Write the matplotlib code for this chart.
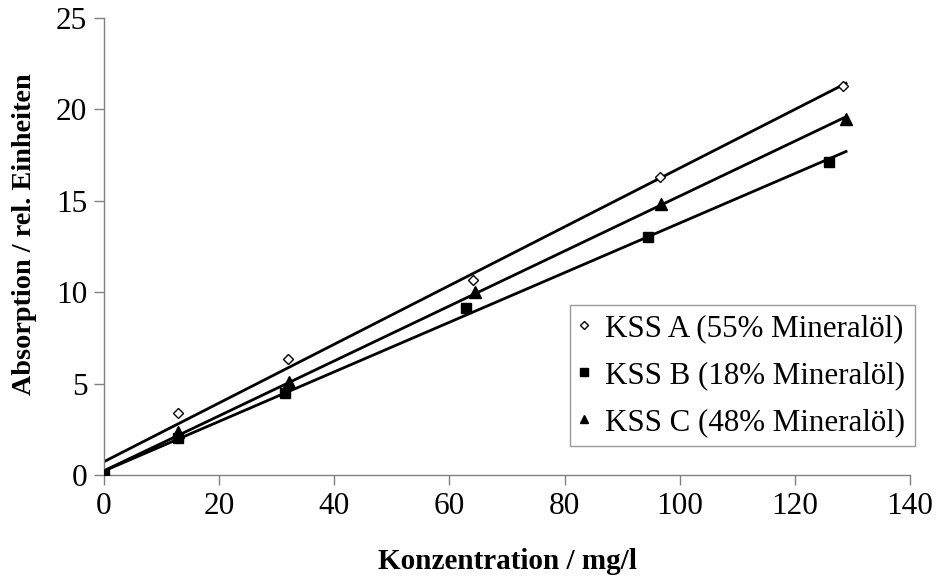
import numpy as np
import matplotlib
matplotlib.use("Agg")
import matplotlib.pyplot as plt

plt.rcParams['font.family'] = ['Liberation Serif', 'DejaVu Serif']

# Messwerte
x_a = [0, 12.9, 32.0, 64.1, 96.6, 128.4]
y_a = [0, 3.39, 6.35, 10.67, 16.3, 21.3]
x_b = [0, 12.9, 31.4, 62.9, 94.5, 125.9]
y_b = [0, 2.0, 4.49, 9.13, 13.0, 17.12]
x_c = [0, 12.9, 32.2, 64.4, 96.7, 128.9]
y_c = [0, 2.35, 5.09, 10.0, 14.8, 19.5]
labels = ["KSS A (55% Mineralöl)", "KSS B (18% Mineralöl)", "KSS C (48% Mineralöl)"]

fig = plt.figure(figsize=(9.38, 5.77), dpi=100)
ax = fig.add_axes([0.1109, 0.1768, 0.8592, 0.7920])

series = [(x_a, y_a, 'D', 'white', 5.5), (x_b, y_b, 's', 'black', 7.5), (x_c, y_c, '^', 'black', 8)]
x_end = max(max(x_a), max(x_b), max(x_c))
for (xs, ys, m, fc, ms), lab in zip(series, labels):
    k, d = np.polyfit(xs, ys, 1)
    xx = np.array([0, x_end])
    ax.plot(xx, k * xx + d, color='black', lw=2, zorder=2)
    ax.plot(xs, ys, linestyle='none', marker=m, markerfacecolor=fc,
            markeredgecolor='black', markersize=ms, markeredgewidth=1, label=lab, zorder=3)

ax.set_xlim(0, 140)
ax.set_ylim(0, 25)
ax.set_xticks(range(0, 141, 20))
ax.set_yticks(range(0, 26, 5))
ax.spines['top'].set_visible(False)
ax.spines['right'].set_visible(False)
for s in ('left', 'bottom'):
    ax.spines[s].set_color('#808080')
    ax.spines[s].set_linewidth(1)
ax.tick_params(direction='out', length=7, width=1, color='#808080', labelsize=22.5, pad=5)
ax.set_xlabel("Konzentration / mg/l", fontsize=21, fontweight='bold')
ax.set_ylabel("Absorption / rel. Einheiten", fontsize=20.3, fontweight='bold')
ax.xaxis.set_label_coords(0.5, -0.16)
ax.yaxis.set_label_coords(-0.083, 0.527)

leg = ax.legend(loc='lower right', bbox_to_anchor=(1.006, 0.063), fontsize=22.3, frameon=True,
                fancybox=False, edgecolor='#808080', handlelength=0.3, handletextpad=0.55,
                borderpad=0.3, labelspacing=0.58, markerscale=0.7, borderaxespad=0)
leg.get_frame().set_linewidth(1)

fig.savefig("out.png", dpi=100)
